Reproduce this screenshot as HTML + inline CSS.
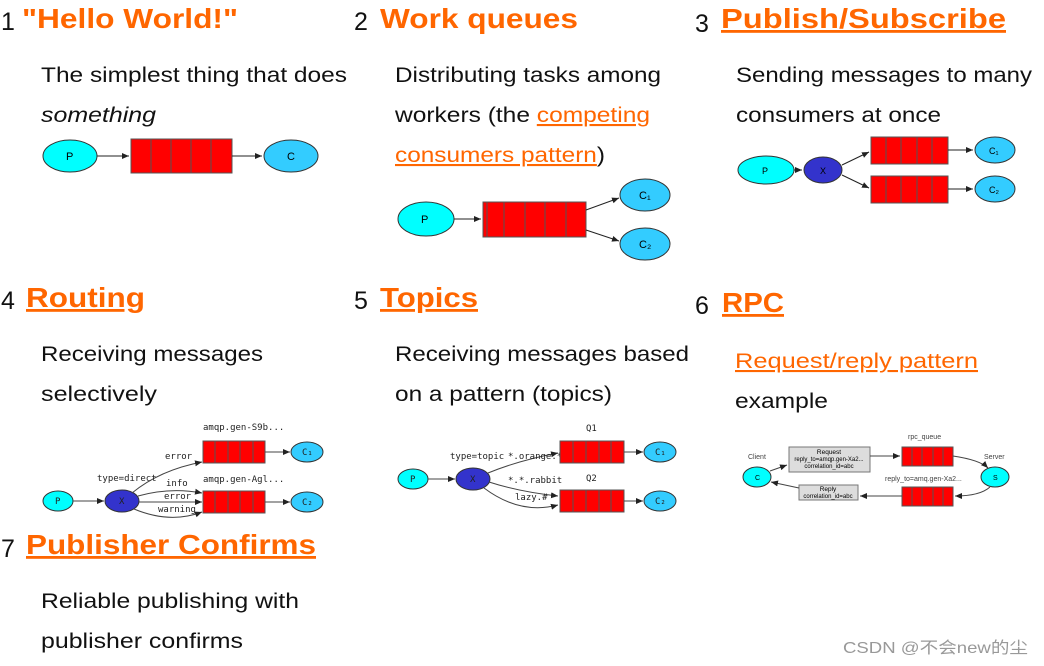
<!DOCTYPE html>
<html><head><meta charset="utf-8"><style>
body{margin:0;background:#fff;width:1044px;height:666px;overflow:hidden}
svg{display:block;font-family:"Liberation Sans","Noto Sans CJK SC",sans-serif}
.n{font-size:25px;fill:#111}
.t{font-size:28px;font-weight:bold;fill:#f60}
.b{font-size:21px;fill:#111}
.l{fill:#f60}
.s{font-size:9px;fill:#222;font-family:"DejaVu Sans Mono",monospace}
.q{fill:#f00;stroke:#555;stroke-width:1}
.e{stroke:#333;stroke-width:1}
</style></head><body>
<svg width="1044" height="666" viewBox="0 0 1044 666">
<defs><marker id="a" markerWidth="8" markerHeight="8" refX="7" refY="4" orient="auto"><path d="M0,1 L7,4 L0,7z" fill="#222"/></marker></defs>
<!-- 1 -->
<text x="1" y="30" class="n">1</text><text x="22" y="28" class="t" textLength="216" lengthAdjust="spacingAndGlyphs">"Hello World!"</text>
<text x="41" y="82" class="b" textLength="306" lengthAdjust="spacingAndGlyphs">The simplest thing that does</text>
<text x="41" y="122" class="b" font-style="italic" textLength="115" lengthAdjust="spacingAndGlyphs">something</text>
<ellipse cx="70" cy="156" rx="27" ry="16" fill="#0ff" class="e"/><text x="66" y="160" font-size="11">P</text>
<line x1="97" y1="156" x2="129" y2="156" stroke="#222" marker-end="url(#a)"/>
<rect x="131" y="139" width="101" height="34" class="q"/>
<path d="M151 139v34M171 139v34M191 139v34M211 139v34" stroke="#555"/>
<line x1="232" y1="156" x2="262" y2="156" stroke="#222" marker-end="url(#a)"/>
<ellipse cx="291" cy="156" rx="27" ry="16" fill="#3cf" class="e"/><text x="287" y="160" font-size="11">C</text>
<!-- 2 -->
<text x="354" y="30" class="n">2</text><text x="380" y="28" class="t" textLength="198" lengthAdjust="spacingAndGlyphs">Work queues</text>
<text x="395" y="82" class="b" textLength="266" lengthAdjust="spacingAndGlyphs">Distributing tasks among</text>
<text x="395" y="122" class="b" textLength="255" lengthAdjust="spacingAndGlyphs">workers (the <tspan class="l" text-decoration="underline">competing</tspan></text>
<text x="395" y="162" class="b" textLength="210" lengthAdjust="spacingAndGlyphs"><tspan class="l" text-decoration="underline">consumers pattern</tspan>)</text>
<ellipse cx="426" cy="219" rx="28" ry="17" fill="#0ff" class="e"/><text x="421" y="223" font-size="11">P</text>
<line x1="454" y1="219" x2="481" y2="219" stroke="#222" marker-end="url(#a)"/>
<rect x="483" y="202" width="103" height="35" class="q"/>
<path d="M487 202v35M504 202v35M525 202v35M545 202v35M566 202v35" stroke="#555"/>
<line x1="586" y1="210" x2="619" y2="198" stroke="#222" marker-end="url(#a)"/>
<line x1="586" y1="230" x2="619" y2="241" stroke="#222" marker-end="url(#a)"/>
<ellipse cx="645" cy="195" rx="25" ry="16" fill="#3cf" class="e"/><text x="639" y="199" font-size="11">C₁</text>
<ellipse cx="645" cy="244" rx="25" ry="16" fill="#3cf" class="e"/><text x="639" y="248" font-size="11">C₂</text>
<!-- 3 -->
<text x="695" y="32" class="n">3</text><text x="721" y="28" class="t" text-decoration="underline" textLength="285" lengthAdjust="spacingAndGlyphs">Publish/Subscribe</text>
<text x="736" y="82" class="b" textLength="296" lengthAdjust="spacingAndGlyphs">Sending messages to many</text>
<text x="736" y="122" class="b" textLength="205" lengthAdjust="spacingAndGlyphs">consumers at once</text>
<ellipse cx="766" cy="170" rx="28" ry="14" fill="#0ff" class="e"/><text x="762" y="174" font-size="9">P</text>
<line x1="794" y1="170" x2="802" y2="170" stroke="#222" marker-end="url(#a)"/>
<ellipse cx="823" cy="170" rx="19" ry="13" fill="#33c" class="e"/><text x="820" y="174" font-size="9">X</text>
<line x1="842" y1="165" x2="869" y2="152" stroke="#222" marker-end="url(#a)"/>
<line x1="842" y1="175" x2="869" y2="188" stroke="#222" marker-end="url(#a)"/>
<rect x="871" y="137" width="77" height="27" class="q"/><path d="M886 137v27M901 137v27M917 137v27M932 137v27" stroke="#555"/>
<rect x="871" y="176" width="77" height="27" class="q"/><path d="M886 176v27M901 176v27M917 176v27M932 176v27" stroke="#555"/>
<line x1="948" y1="150" x2="973" y2="150" stroke="#222" marker-end="url(#a)"/>
<line x1="948" y1="189" x2="973" y2="189" stroke="#222" marker-end="url(#a)"/>
<ellipse cx="995" cy="150" rx="20" ry="13" fill="#3cf" class="e"/><text x="989" y="154" font-size="9">C₁</text>
<ellipse cx="995" cy="189" rx="20" ry="13" fill="#3cf" class="e"/><text x="989" y="193" font-size="9">C₂</text>
<!-- 4 -->
<text x="1" y="309" class="n">4</text><text x="26" y="307" class="t" text-decoration="underline" textLength="119" lengthAdjust="spacingAndGlyphs">Routing</text>
<text x="41" y="361" class="b" textLength="222" lengthAdjust="spacingAndGlyphs">Receiving messages</text>
<text x="41" y="401" class="b" textLength="116" lengthAdjust="spacingAndGlyphs">selectively</text>
<ellipse cx="58" cy="501" rx="15" ry="10" fill="#0ff" class="e"/><text x="55" y="504" class="s">P</text>
<line x1="73" y1="501" x2="104" y2="501" stroke="#444" marker-end="url(#a)"/>
<ellipse cx="122" cy="501" rx="17" ry="11" fill="#33c" class="e"/><text x="119" y="504" class="s">X</text>
<path d="M132 493 Q160 470 202 462" fill="none" stroke="#444" marker-end="url(#a)"/>
<path d="M138 496 Q170 487 202 493" fill="none" stroke="#444" marker-end="url(#a)"/>
<line x1="139" y1="502" x2="202" y2="502" stroke="#444" marker-end="url(#a)"/>
<path d="M134 509 Q170 524 202 512" fill="none" stroke="#444" marker-end="url(#a)"/>
<text x="165" y="459" class="s">error</text><text x="97" y="481" class="s">type=direct</text>
<text x="166" y="486" class="s">info</text><text x="164" y="499" class="s">error</text><text x="158" y="512" class="s">warning</text>
<text x="203" y="430" class="s">amqp.gen-S9b...</text><text x="203" y="482" class="s">amqp.gen-Agl...</text>
<rect x="203" y="441" width="62" height="22" class="q"/><path d="M215 441v22M228 441v22M240 441v22M253 441v22" stroke="#555"/>
<rect x="203" y="491" width="62" height="22" class="q"/><path d="M215 491v22M228 491v22M240 491v22M253 491v22" stroke="#555"/>
<line x1="265" y1="452" x2="290" y2="452" stroke="#444" marker-end="url(#a)"/>
<line x1="265" y1="502" x2="290" y2="502" stroke="#444" marker-end="url(#a)"/>
<ellipse cx="307" cy="452" rx="16" ry="10" fill="#3cf" class="e"/><text x="302" y="455" class="s">C₁</text>
<ellipse cx="307" cy="502" rx="16" ry="10" fill="#3cf" class="e"/><text x="302" y="505" class="s">C₂</text>
<!-- 5 -->
<text x="354" y="309" class="n">5</text><text x="380" y="307" class="t" text-decoration="underline" textLength="98" lengthAdjust="spacingAndGlyphs">Topics</text>
<text x="395" y="361" class="b" textLength="294" lengthAdjust="spacingAndGlyphs">Receiving messages based</text>
<text x="395" y="401" class="b" textLength="217" lengthAdjust="spacingAndGlyphs">on a pattern (topics)</text>
<ellipse cx="413" cy="479" rx="15" ry="10" fill="#0ff" class="e"/><text x="410" y="482" class="s">P</text>
<line x1="428" y1="479" x2="455" y2="479" stroke="#444" marker-end="url(#a)"/>
<ellipse cx="473" cy="479" rx="17" ry="11" fill="#33c" class="e"/><text x="470" y="482" class="s">X</text>
<path d="M488 473 Q520 460 558 453" fill="none" stroke="#444" marker-end="url(#a)"/>
<path d="M489 482 Q520 492 558 496" fill="none" stroke="#444" marker-end="url(#a)"/>
<path d="M484 488 Q520 515 558 505" fill="none" stroke="#444" marker-end="url(#a)"/>
<text x="450" y="459" class="s">type=topic</text><text x="508" y="459" class="s">*.orange.*</text>
<text x="508" y="483" class="s">*.*.rabbit</text><text x="515" y="500" class="s">lazy.#</text>
<text x="586" y="431" class="s">Q1</text><text x="586" y="481" class="s">Q2</text>
<rect x="560" y="441" width="64" height="22" class="q"/><path d="M573 441v22M586 441v22M599 441v22M611 441v22" stroke="#555"/>
<rect x="560" y="490" width="64" height="22" class="q"/><path d="M573 490v22M586 490v22M599 490v22M611 490v22" stroke="#555"/>
<line x1="624" y1="452" x2="643" y2="452" stroke="#444" marker-end="url(#a)"/>
<line x1="624" y1="501" x2="643" y2="501" stroke="#444" marker-end="url(#a)"/>
<ellipse cx="660" cy="452" rx="16" ry="10" fill="#3cf" class="e"/><text x="655" y="455" class="s">C₁</text>
<ellipse cx="660" cy="501" rx="16" ry="10" fill="#3cf" class="e"/><text x="655" y="504" class="s">C₂</text>
<!-- 6 -->
<text x="695" y="314" class="n">6</text><text x="722" y="312" class="t" text-decoration="underline" textLength="62" lengthAdjust="spacingAndGlyphs">RPC</text>
<text x="735" y="368" class="b" textLength="243" lengthAdjust="spacingAndGlyphs"><tspan class="l" text-decoration="underline">Request/reply pattern</tspan></text>
<text x="735" y="408" class="b" textLength="93" lengthAdjust="spacingAndGlyphs">example</text>
<text x="748" y="459" font-size="7" fill="#444">Client</text><text x="984" y="459" font-size="7" fill="#444">Server</text>
<ellipse cx="757" cy="477" rx="14" ry="10" fill="#0ff" class="e"/><text x="755" y="480" font-size="7">C</text>
<ellipse cx="995" cy="477" rx="14" ry="10" fill="#0ff" class="e"/><text x="993" y="480" font-size="7">S</text>
<rect x="789" y="447" width="81" height="25" fill="#ddd" stroke="#777"/>
<text x="829" y="454" font-size="6.5" text-anchor="middle">Request</text>
<text x="829" y="461" font-size="6" text-anchor="middle">reply_to=amqp.gen-Xa2...</text>
<text x="829" y="468" font-size="6" text-anchor="middle">correlation_id=abc</text>
<rect x="799" y="485" width="59" height="15" fill="#ddd" stroke="#777"/>
<text x="828" y="491" font-size="6.5" text-anchor="middle">Reply</text>
<text x="828" y="498" font-size="6" text-anchor="middle">correlation_id=abc</text>
<text x="908" y="439" font-size="7" fill="#444">rpc_queue</text>
<text x="885" y="481" font-size="7" fill="#444">reply_to=amq.gen-Xa2...</text>
<rect x="902" y="447" width="51" height="19" class="q"/><path d="M912 447v19M922 447v19M933 447v19M943 447v19" stroke="#555"/>
<rect x="902" y="487" width="51" height="19" class="q"/><path d="M912 487v19M922 487v19M933 487v19M943 487v19" stroke="#555"/>
<line x1="770" y1="471" x2="787" y2="465" stroke="#444" marker-end="url(#a)"/>
<line x1="870" y1="456" x2="900" y2="456" stroke="#444" marker-end="url(#a)"/>
<path d="M953 456 Q980 460 988 468" fill="none" stroke="#444" marker-end="url(#a)"/>
<path d="M990 487 Q980 496 955 496" fill="none" stroke="#444" marker-end="url(#a)"/>
<line x1="902" y1="496" x2="860" y2="496" stroke="#444" marker-end="url(#a)"/>
<line x1="799" y1="488" x2="771" y2="482" stroke="#444" marker-end="url(#a)"/>
<!-- 7 -->
<text x="1" y="557" class="n">7</text><text x="26" y="554" class="t" text-decoration="underline" textLength="290" lengthAdjust="spacingAndGlyphs">Publisher Confirms</text>
<text x="41" y="608" class="b" textLength="258" lengthAdjust="spacingAndGlyphs">Reliable publishing with</text>
<text x="41" y="648" class="b" textLength="202" lengthAdjust="spacingAndGlyphs">publisher confirms</text>
<text x="843" y="653" font-size="16" fill="#999" textLength="185" lengthAdjust="spacingAndGlyphs">CSDN @不会new的尘</text>
</svg>
</body></html>
